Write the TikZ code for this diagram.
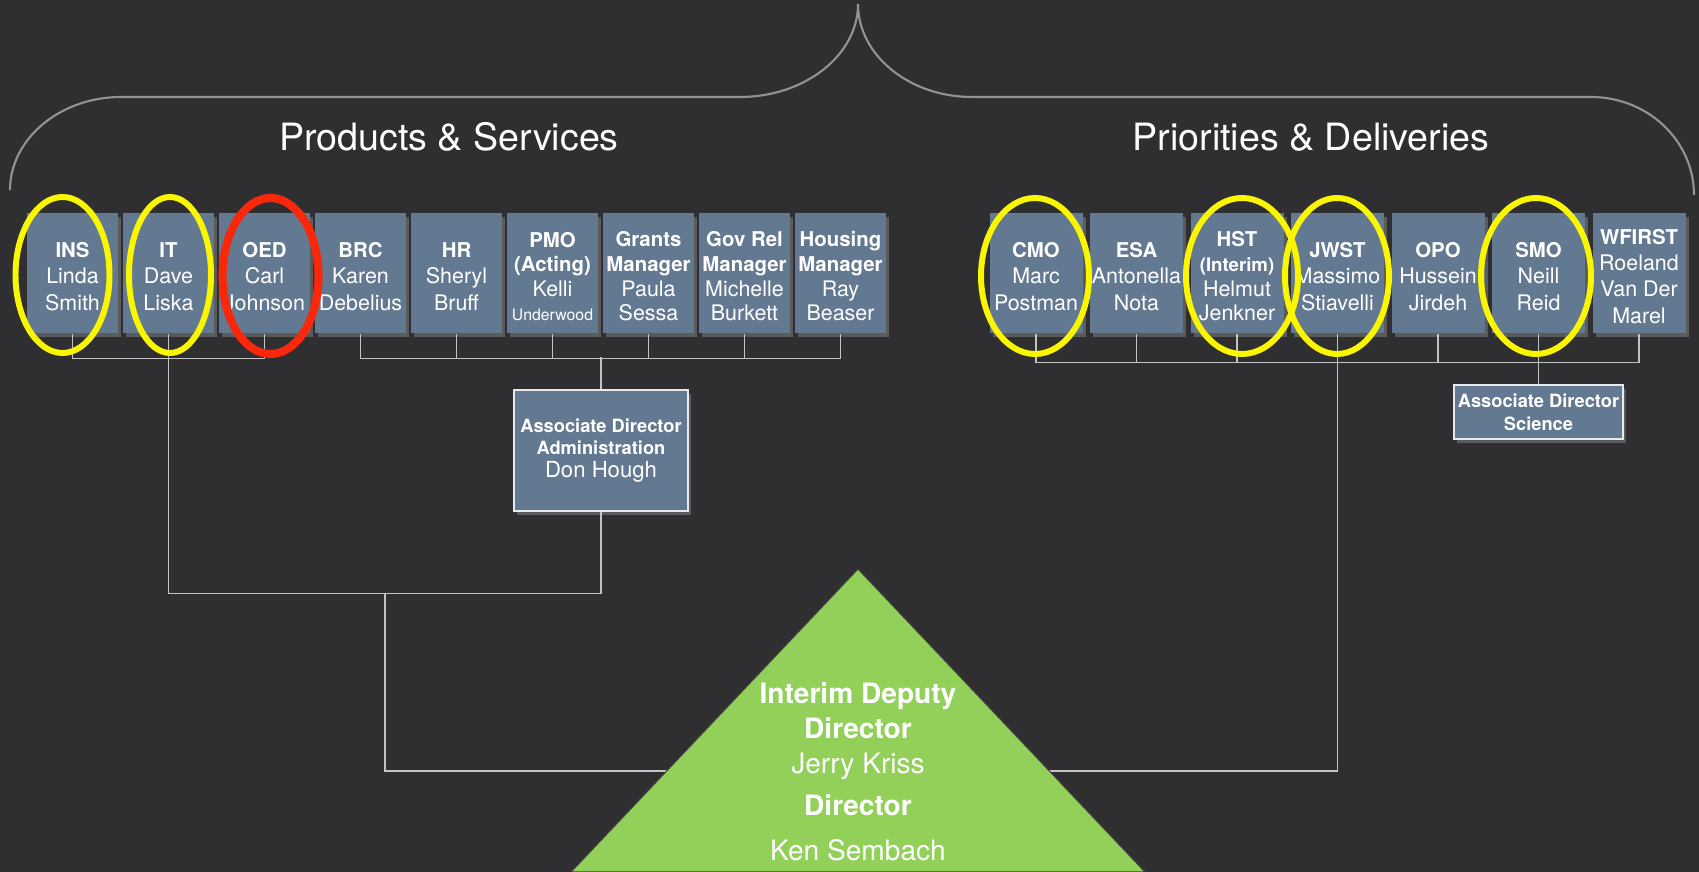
\documentclass[tikz,border=0pt]{standalone}
\usepackage{fontspec}
\setmainfont{TeX Gyre Heros}
\usetikzlibrary{positioning}
\usetikzlibrary{shadows}
\definecolor{board}{RGB}{47,47,49}
\definecolor{slate}{RGB}{99,121,145}
\definecolor{leaf}{RGB}{146,208,90}
\definecolor{wire}{RGB}{196,196,196}
\definecolor{marker}{RGB}{250,246,0}
\definecolor{alert}{RGB}{250,40,10}
\tikzset{
    unit/.style={fill=slate, text=white, minimum width=9.1mm, minimum height=12mm,
        inner sep=0pt, align=center, font=\fontsize{6.1}{7.45}\selectfont,
        drop shadow={shadow xshift=0.3mm, shadow yshift=-0.4mm, opacity=0.55}},
    tight/.style={font=\fontsize{6.1}{7.0}\selectfont},
    assoc/.style={unit, draw=white!85!slate, line width=0.35pt,
        font=\bfseries\fontsize{5.2}{6.5}\selectfont},
    heading/.style={text=white, inner sep=0pt, font=\fontsize{10.7}{12}\selectfont},
    link/.style={draw=wire, line width=0.45pt},
    ring/.style={draw=marker, line width=1.7pt},
    redring/.style={draw=alert, line width=2.3pt}
}
% first line of a box gets a strut, second bold lines do not
\newcommand{\role}[1]{{\bfseries\fontsize{5.8}{7}\selectfont #1}}
\newcommand{\dept}[1]{\role{\rule{0pt}{6.3pt}#1}}

\begin{document}
\begin{tikzpicture}[x=0.1mm, y=-0.1mm]
	\fill[board] (0,0) rectangle (1699,872);
	\useasboundingbox (0,0) rectangle (1699,872);
	% the brace over both halves
	\draw[gray!85, line width=0.6pt] (10,190) .. controls (10,139) and (60,97) .. (121,97) -- (740,97)
		.. controls (805,97) and (858,55) .. (858,4)
		.. controls (858,55) and (909,97) .. (972,97) -- (1591,97)
		.. controls (1648,97) and (1694,141) .. (1694,195);
	\node[heading] (prod) at (449,137) {Products \& Services};
	\node[heading] (prio) at (1311,137) {Priorities \& Deliveries};
	% products & services
	\node[unit] (ins) at (72.5,273) {\dept{INS}\\Linda\\Smith};
	\node[unit] (it) at (168.5,273) {\dept{IT}\\Dave\\Liska};
	\node[unit] (oed) at (264.5,273) {\dept{OED}\\Carl\\Johnson};
	\node[unit] (brc) at (360.5,273) {\dept{BRC}\\Karen\\Debelius};
	\node[unit] (hr) at (456.5,273) {\dept{HR}\\Sheryl\\Bruff};
	\node[unit, tight] (pmo) at (552.5,273) {\dept{PMO}\\\role{(Acting)}\\Kelli\\{\fontsize{4.5}{7}\selectfont Underwood}};
	\node[unit, tight] (grants) at (648.5,273) {\dept{Grants}\\\role{Manager}\\Paula\\Sessa};
	\node[unit, tight] (govrel) at (744.5,273) {\dept{Gov Rel}\\\role{Manager}\\Michelle\\Burkett};
	\node[unit, tight] (housing) at (840.5,273) {\dept{Housing}\\\role{Manager}\\Ray\\Beaser};
	\node[assoc, minimum width=17.4mm, minimum height=12.1mm] (admin) at (601,450.5)
		{Associate Director\\Administration\\{\mdseries\fontsize{6.3}{7}\selectfont Don Hough}};
	% priorities & deliveries
	\node[unit, minimum width=9.3mm] (cmo) at (1036,273) {\dept{CMO}\\Marc\\Postman};
	\node[unit, minimum width=9.3mm] (esa) at (1136.5,273) {\dept{ESA}\\Antonella\\Nota};
	\node[unit, tight, minimum width=9.3mm] (hst) at (1237,273) {\dept{HST}\\{\bfseries\fontsize{5.3}{7}\selectfont (Interim)}\\Helmut\\Jenkner};
	\node[unit, minimum width=9.3mm] (jwst) at (1337.5,273) {\dept{JWST}\\Massimo\\Stiavelli};
	\node[unit, minimum width=9.3mm] (opo) at (1438,273) {\dept{OPO}\\Hussein\\Jirdeh};
	\node[unit, minimum width=9.3mm] (smo) at (1538.5,273) {\dept{SMO}\\Neill\\Reid};
	\node[unit, minimum width=9.3mm] (wfirst) at (1639,273) {\dept{WFIRST}\\Roeland\\Van Der\\Marel};
	\node[assoc, minimum width=16.9mm, minimum height=5.4mm] (sci) at (1538.5,412) {Associate Director\\Science};
	% reporting lines
	\coordinate (split) at (385,593);
	\coordinate (triL) at (667,771);
	\coordinate (triR) at (1049,771);
	\draw[link] (ins.south) -- ++(0,25) -| (oed.south);
	\draw[link] (it.south) -- ++(0,260) -| (admin.south);
	\draw[link] (brc.south) -- ++(0,25) -| (housing.south);
	\draw[link] (hr.south) -- ++(0,25);
	\draw[link] (pmo.south) -- ++(0,25);
	\draw[link] (grants.south) -- ++(0,25);
	\draw[link] (govrel.south) -- ++(0,25);
	\draw[link] (admin.north) -- ++(0,-32);
	\draw[link] (split) |- (triL);
	\draw[link] (cmo.south) -- ++(0,29) -| (wfirst.south);
	\draw[link] (esa.south) -- ++(0,29);
	\draw[link] (hst.south) -- ++(0,29);
	\draw[link] (opo.south) -- ++(0,29);
	\draw[link] (smo.south) -- (sci.north);
	\draw[link] (jwst.south) |- (triR);
	% director triangle
	\filldraw[fill=leaf, draw=black!75, line width=0.3pt] (858,569) -- (571,872) -- (1145,872) -- cycle;
	\node[text=white, inner sep=0pt, align=center, font=\fontsize{8}{9.95}\selectfont] (director) at (858,772)
		{\textbf{Interim Deputy}\\\textbf{Director}\\Jerry Kriss\\[2pt]\textbf{Director}\\[3pt]Ken Sembach};
	% rings
	\draw[ring] (ins) ++(-10,2) ellipse [x radius=47, y radius=78];
	\draw[ring] (it) ++(1.5,2) ellipse [x radius=41, y radius=78];
	\draw[redring] (oed) ++(6,3) ellipse [x radius=48, y radius=78];
	\draw[ring] (cmo) ++(-1,3) ellipse [x radius=54, y radius=78];
	\draw[ring] (hst) ++(5,3) ellipse [x radius=56, y radius=78];
	\draw[ring] (jwst) ++(-0.5,3) ellipse [x radius=52, y radius=78];
	\draw[ring] (smo) ++(-2.5,3) ellipse [x radius=55, y radius=78];
\end{tikzpicture}
\end{document}
